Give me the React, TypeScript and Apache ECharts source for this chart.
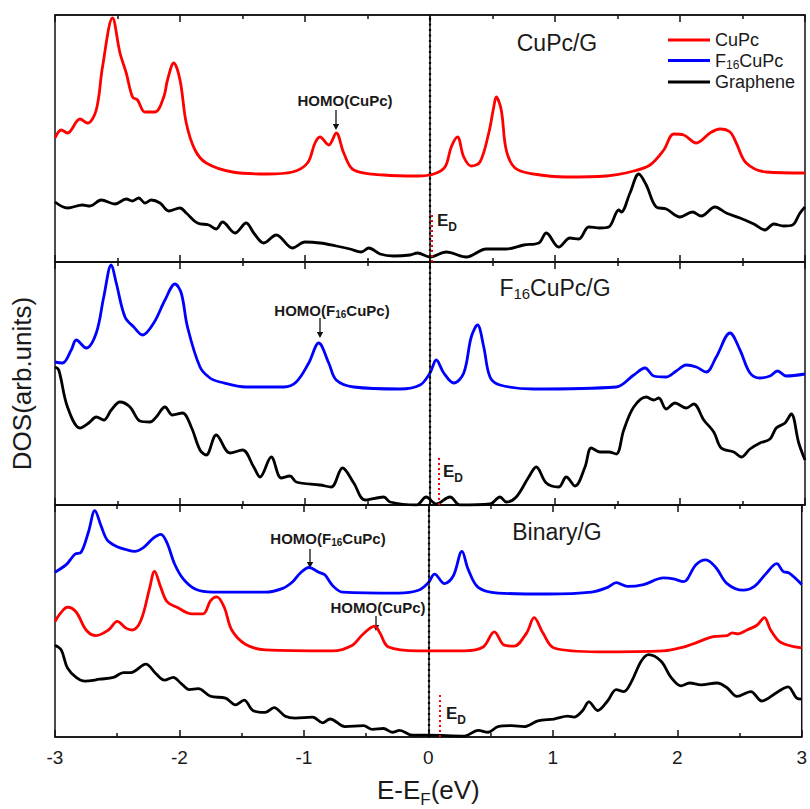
import React, { useEffect, useRef } from 'react';
import * as echarts from 'echarts';

// ---------- data (E - E_F in eV, DOS in arbitrary units) ----------
const xMin = -3;
const xMax = 3;
const panelMax = [247, 243, 245];
const panelTitles = ['CuPc/G', 'F16CuPc/G', 'Binary/G'];
const legendNames = ['CuPc', 'F16CuPc', 'Graphene'];

const p1CuPc = [[-3,124],[-2.95,132],[-2.9,129],[-2.8,143],[-2.74,139],[-2.67,152],[-2.62,195],[-2.54,244],[-2.48,209],[-2.43,189],[-2.38,165],[-2.34,162],[-2.28,150],[-2.2,150],[-2.13,165],[-2.1,182],[-2.05,199],[-2.0,182],[-1.95,139],[-1.88,112],[-1.79,99],[-1.58,90],[-1.3,88],[-1.1,90],[-0.98,99],[-0.92,119],[-0.88,125],[-0.81,117],[-0.75,129],[-0.69,109],[-0.61,92],[-0.37,87],[-0.1,86],[0.03,88],[0.12,95],[0.17,115],[0.22,125],[0.27,105],[0.33,96],[0.4,100],[0.47,129],[0.51,155],[0.53,165],[0.57,152],[0.61,112],[0.68,94],[0.83,88],[1.09,85],[1.41,86],[1.63,91],[1.76,97],[1.87,112],[1.95,128],[2.03,127],[2.13,119],[2.24,129],[2.32,133],[2.4,130],[2.45,119],[2.53,99],[2.69,90],[3,89]];

const p1Graphene = [[-3,60],[-2.9,54],[-2.78,57],[-2.72,56],[-2.63,62],[-2.52,58],[-2.43,63],[-2.38,61],[-2.33,64],[-2.28,59],[-2.23,62],[-2.16,59],[-2.09,51],[-2.0,54],[-1.95,49],[-1.86,39],[-1.77,37],[-1.71,33],[-1.66,40],[-1.56,29],[-1.47,39],[-1.41,29],[-1.33,19],[-1.23,27],[-1.1,14],[-1.0,20],[-0.88,19],[-0.75,16],[-0.64,13],[-0.55,10],[-0.49,14],[-0.4,8],[-0.29,6],[-0.16,7],[-0.1,9],[0,5],[0.13,10],[0.29,5],[0.45,13],[0.61,13],[0.75,17],[0.87,19],[0.93,29],[1.03,15],[1.12,24],[1.19,23],[1.27,35],[1.36,34],[1.43,35],[1.51,52],[1.53,50],[1.6,69],[1.67,88],[1.73,77],[1.81,55],[1.89,53],[2.0,45],[2.1,50],[2.17,46],[2.28,55],[2.37,49],[2.48,44],[2.59,38],[2.68,32],[2.75,38],[2.83,36],[2.9,37],[2.96,49],[3,55]];

const p2F16CuPc = [[-3,143],[-2.94,142],[-2.87,155],[-2.83,165],[-2.75,157],[-2.67,172],[-2.61,208],[-2.55,240],[-2.51,222],[-2.44,188],[-2.37,178],[-2.3,170],[-2.21,182],[-2.12,205],[-2.04,221],[-1.99,212],[-1.94,178],[-1.84,138],[-1.76,127],[-1.68,123],[-1.47,118],[-1.17,118],[-1.07,123],[-0.97,142],[-0.89,162],[-0.81,142],[-0.75,125],[-0.61,118],[-0.24,116],[-0.08,120],[0,132],[0.05,145],[0.11,132],[0.19,122],[0.27,132],[0.33,168],[0.38,180],[0.43,158],[0.48,128],[0.56,120],[0.83,116],[1.49,118],[1.63,130],[1.72,137],[1.79,129],[1.89,128],[1.97,134],[2.05,140],[2.13,138],[2.21,133],[2.29,148],[2.4,172],[2.48,155],[2.56,132],[2.64,127],[2.72,129],[2.78,134],[2.85,129],[3,131]];

const p2Graphene = [[-3,138],[-2.97,135],[-2.9,98],[-2.8,77],[-2.73,82],[-2.67,88],[-2.61,85],[-2.55,95],[-2.48,103],[-2.4,98],[-2.32,84],[-2.24,83],[-2.19,88],[-2.12,98],[-2.06,90],[-1.98,92],[-1.91,78],[-1.84,55],[-1.79,50],[-1.71,70],[-1.6,52],[-1.5,55],[-1.41,38],[-1.36,28],[-1.27,48],[-1.19,27],[-1.12,29],[-1.07,23],[-0.88,20],[-0.79,18],[-0.7,37],[-0.61,22],[-0.52,5],[-0.37,8],[-0.32,3],[-0.11,0],[-0.03,8],[0.05,1],[0.16,8],[0.24,0],[0.48,1],[0.56,8],[0.61,3],[0.69,8],[0.79,28],[0.85,38],[0.93,22],[1.03,18],[1.09,28],[1.16,19],[1.24,38],[1.29,57],[1.36,53],[1.43,53],[1.49,51],[1.55,75],[1.63,98],[1.73,108],[1.79,105],[1.83,107],[1.89,96],[1.96,102],[2.05,97],[2.11,101],[2.19,85],[2.27,73],[2.33,57],[2.43,53],[2.49,48],[2.56,56],[2.64,62],[2.72,66],[2.77,77],[2.84,82],[2.89,91],[2.95,62],[3,45]];

const p3F16CuPc = [[-3,174],[-2.91,182],[-2.84,193],[-2.79,195],[-2.73,217],[-2.68,239],[-2.63,223],[-2.58,208],[-2.5,201],[-2.43,198],[-2.36,196],[-2.29,200],[-2.21,210],[-2.15,214],[-2.1,205],[-2.04,183],[-1.97,167],[-1.87,156],[-1.73,153],[-1.31,153],[-1.17,157],[-1.09,164],[-1.03,173],[-0.96,179],[-0.88,174],[-0.83,171],[-0.77,160],[-0.69,153],[-0.24,152],[-0.08,155],[0,163],[0.05,172],[0.13,162],[0.2,170],[0.27,196],[0.32,177],[0.4,158],[0.56,152],[0.96,151],[1.31,153],[1.44,158],[1.51,163],[1.6,159],[1.73,161],[1.89,168],[1.97,167],[2.05,164],[2.15,182],[2.23,187],[2.31,179],[2.4,162],[2.53,155],[2.62,159],[2.71,172],[2.8,183],[2.85,175],[2.9,173],[3,161]];

const p3CuPc = [[-3,122],[-2.96,130],[-2.9,137],[-2.83,132],[-2.75,113],[-2.67,107],[-2.57,113],[-2.5,122],[-2.43,115],[-2.38,113],[-2.31,123],[-2.24,157],[-2.2,175],[-2.15,158],[-2.1,143],[-2.02,137],[-1.9,130],[-1.81,130],[-1.75,144],[-1.7,148],[-1.64,137],[-1.58,113],[-1.47,98],[-1.31,92],[-0.77,91],[-0.61,97],[-0.53,108],[-0.43,117],[-0.39,110],[-0.32,95],[-0.08,91],[0.29,91],[0.44,95],[0.53,111],[0.61,97],[0.69,96],[0.79,110],[0.85,126],[0.92,110],[1.01,94],[1.36,90],[1.89,91],[2.05,95],[2.16,100],[2.29,106],[2.4,107],[2.44,110],[2.49,109],[2.56,113],[2.64,118],[2.7,126],[2.75,113],[2.83,100],[3,94]];

const p3Graphene = [[-3,97],[-2.95,92],[-2.9,73],[-2.83,63],[-2.76,59],[-2.64,61],[-2.53,63],[-2.45,68],[-2.39,68],[-2.27,77],[-2.19,67],[-2.12,60],[-2.05,63],[-1.99,57],[-1.92,50],[-1.85,51],[-1.75,43],[-1.63,41],[-1.55,34],[-1.48,39],[-1.41,28],[-1.31,26],[-1.24,31],[-1.15,22],[-1.07,20],[-0.93,21],[-0.85,15],[-0.79,19],[-0.67,11],[-0.52,12],[-0.45,8],[-0.36,9],[-0.29,5],[-0.23,7],[-0.13,2],[0,2],[0.29,1],[0.4,7],[0.48,5],[0.56,11],[0.67,12],[0.77,11],[0.88,17],[1.01,19],[1.12,22],[1.17,21],[1.24,28],[1.29,37],[1.36,28],[1.44,38],[1.51,50],[1.57,48],[1.63,58],[1.71,80],[1.77,87],[1.87,80],[1.95,63],[2.03,54],[2.1,57],[2.19,55],[2.32,57],[2.4,52],[2.48,43],[2.59,48],[2.68,38],[2.8,47],[2.89,53],[2.96,41],[3,40]];

// Dirac point positions (eV) and marker heights per panel
const diracE = [0.01, 0.07, 0.09];
const diracH = [47, 47, 46];

// ---------- styling ----------
const FONT = 'Liberation Sans, Arial, Helvetica, sans-serif';
const RED = '#ff0000';
const BLUE = '#0000ff';
const BLACK = '#000000';
const TXT = '#1a1a1a';

const grids = [
  { left: 55, top: 15, width: 750, height: 247 },
  { left: 55, top: 262, width: 750, height: 243 },
  { left: 55, top: 505, width: 750, height: 245 },
];

function makeSeries(name: string, data: number[][], color: string, gi: number, extra: any = {}) {
  return {
    type: 'line',
    name,
    data,
    xAxisIndex: gi * 2,
    yAxisIndex: gi,
    smooth: 0.35,
    symbol: 'none',
    lineStyle: { color, width: 2.8 },
    itemStyle: { color },
    z: 3,
    ...extra,
  };
}

function refLines(gi: number) {
  return {
    markLine: {
      silent: true,
      symbol: ['none', 'none'],
      label: { show: false },
      animation: false,
      data: [
        { xAxis: 0, lineStyle: { color: BLACK, width: 2.2, type: [2, 3.5] } },
        [
          { coord: [diracE[gi], 0], lineStyle: { color: RED, width: 2, type: [2, 3] } },
          { coord: [diracE[gi], diracH[gi]] },
        ],
      ],
    },
  };
}

function arrow(x: number, y1: number, y2: number) {
  return [
    { type: 'line', shape: { x1: x, y1, x2: x, y2: y2 - 4 }, style: { stroke: '#111', lineWidth: 1.3 } },
    { type: 'polygon', shape: { points: [[x - 3.2, y2 - 6], [x + 3.2, y2 - 6], [x, y2]] }, style: { fill: '#111' } },
  ];
}

function label(text: string, x: number, y: number, rich?: any, base: any = {}) {
  return {
    type: 'text',
    x,
    y,
    style: {
      text,
      fill: TXT,
      fontFamily: FONT,
      align: 'center',
      verticalAlign: 'middle',
      rich,
      ...base,
    },
  };
}

const homoRich = {
  a: { fontSize: 15, fontWeight: 'bold', fontFamily: FONT, lineHeight: 18, fill: TXT },
  b: { fontSize: 10, fontWeight: 'bold', fontFamily: FONT, lineHeight: 13, verticalAlign: 'bottom', fill: TXT },
};
const titleRich = {
  a: { fontSize: 23, fontFamily: FONT, lineHeight: 26, fill: TXT },
  b: { fontSize: 15, fontFamily: FONT, lineHeight: 17, verticalAlign: 'bottom', fill: TXT },
};
const edRich = {
  e: { fontSize: 17, fontWeight: 'bold', fontFamily: FONT, lineHeight: 26, fill: TXT },
  d: { fontSize: 12, fontWeight: 'bold', fontFamily: FONT, lineHeight: 12, verticalAlign: 'bottom', fill: TXT },
};

function edLabel(x: number, y: number) {
  return { type: 'text', x, y, style: { text: '{e|E}{d|D}', rich: edRich, align: 'left', verticalAlign: 'middle', fontFamily: FONT } };
}

export default function App() {
  const ref = useRef<HTMLDivElement>(null);

  useEffect(() => {
    if (!ref.current) return;
    const chart = echarts.init(ref.current, undefined, { renderer: 'svg' });

    const xAxes: any[] = [];
    grids.forEach((_, gi) => {
      ['bottom', 'top'].forEach((pos) => {
        const isMainBottom = gi === 2 && pos === 'bottom';
        xAxes.push({
          type: 'value',
          gridIndex: gi,
          position: pos,
          min: xMin,
          max: xMax,
          interval: 1,
          axisLine: { show: true, lineStyle: { color: '#111', width: 1.5 } },
          axisTick: { show: true, inside: true, length: 7, lineStyle: { color: '#111', width: 1.5 } },
          minorTick: { show: true, splitNumber: 2, length: 4, lineStyle: { color: '#111', width: 1.5 } },
          splitLine: { show: false },
          minorSplitLine: { show: false },
          axisLabel: {
            show: isMainBottom,
            fontSize: 19,
            color: TXT,
            fontFamily: FONT,
            margin: 11,
          },
          ...(isMainBottom
            ? {
                name: 'E-E{s|F}(eV)',
                nameLocation: 'middle',
                nameGap: 35,
                nameTextStyle: {
                  fontSize: 26,
                  color: TXT,
                  fontFamily: FONT,
                  rich: {
                    s: { fontSize: 17, fontFamily: FONT, lineHeight: 17, verticalAlign: 'bottom', color: TXT },
                  },
                  lineHeight: 36,
                },
              }
            : {}),
        });
      });
    });

    const yAxes: any[] = grids.map((_, gi) => ({
      type: 'value',
      gridIndex: gi,
      min: 0,
      max: panelMax[gi],
      axisLine: { show: true, lineStyle: { color: '#111', width: 1.5 } },
      axisTick: { show: false },
      axisLabel: { show: false },
      splitLine: { show: false },
      ...(gi === 1
        ? {
            name: 'DOS(arb.units)',
            nameLocation: 'middle',
            nameGap: 20,
            nameTextStyle: { fontSize: 26, color: TXT, fontFamily: FONT },
          }
        : {}),
    }));

    const series: any[] = [
      makeSeries('CuPc', p1CuPc, RED, 0),
      makeSeries('Graphene', p1Graphene, BLACK, 0, refLines(0)),
      makeSeries('F16CuPc', p2F16CuPc, BLUE, 1),
      makeSeries('Graphene', p2Graphene, BLACK, 1, refLines(1)),
      makeSeries('F16CuPc', p3F16CuPc, BLUE, 2),
      makeSeries('CuPc', p3CuPc, RED, 2),
      makeSeries('Graphene', p3Graphene, BLACK, 2, refLines(2)),
    ];

    const graphic: any[] = [
      label('{a|' + panelTitles[0] + '}', 557, 43, titleRich),
      label('{a|F}{b|16}{a|CuPc/G}', 555, 288, titleRich),
      label('{a|' + panelTitles[2] + '}', 557, 532, titleRich),
      label('{a|HOMO(CuPc)}', 345, 100, homoRich),
      ...arrow(336, 110, 130),
      label('{a|HOMO(F}{b|16}{a|CuPc)}', 332, 310, homoRich),
      ...arrow(320, 318, 338),
      label('{a|HOMO(F}{b|16}{a|CuPc)}', 328, 538, homoRich),
      ...arrow(310, 549, 568),
      label('{a|HOMO(CuPc)}', 378, 607, homoRich),
      ...arrow(376, 616, 631),
      edLabel(437, 220),
      edLabel(443, 471),
      edLabel(446, 713),
    ];

    chart.setOption({
      animation: false,
      backgroundColor: '#ffffff',
      textStyle: { fontFamily: FONT },
      grid: grids.map((g) => ({ ...g, show: true, borderColor: '#111', borderWidth: 1.5, backgroundColor: 'transparent' })),
      xAxis: xAxes,
      yAxis: yAxes,
      legend: {
        data: legendNames,
        orient: 'vertical',
        left: 663,
        top: 26,
        icon: 'rect',
        itemWidth: 42,
        itemHeight: 3,
        itemGap: 2.5,
        selectedMode: false,
        formatter: (name: string) => (name === 'F16CuPc' ? '{a|F}{b|16}{a|CuPc}' : '{a|' + name + '}'),
        textStyle: {
          color: TXT,
          fontFamily: FONT,
          rich: {
            a: { fontSize: 18, lineHeight: 20, color: TXT, fontFamily: FONT },
            b: { fontSize: 12, lineHeight: 13, verticalAlign: 'bottom', color: TXT, fontFamily: FONT },
          },
        },
      },
      series,
      graphic,
    });

    return () => chart.dispose();
  }, []);

  return <div ref={ref} style={{ position: 'absolute', left: 0, top: 0, width: 810, height: 809 }} />;
}
